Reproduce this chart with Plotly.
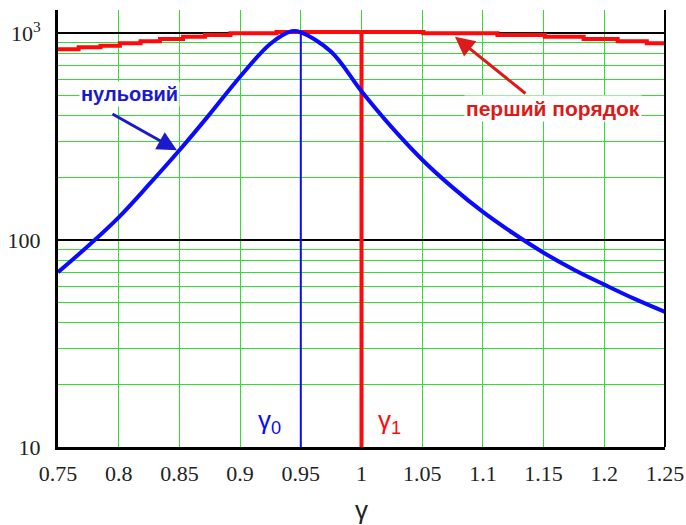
import numpy as np
import plotly.graph_objects as go

# Zeroth-order curve (blue)
gamma0_x = [0.75, 0.775, 0.8, 0.825, 0.85, 0.875, 0.9, 0.925, 0.9425, 0.95, 0.975, 1.0, 1.025,
            1.05, 1.075, 1.1, 1.125, 1.15, 1.175, 1.2, 1.225, 1.25]
gamma0_y = [70, 94, 129, 186, 272, 407, 617, 891, 1023, 1012, 815, 525, 351,
            245, 180, 137, 108, 87, 72, 61, 52, 45]

# First-order curve (red, stepped)
first_x = [0.75, 0.767, 0.785, 0.801, 0.818, 0.834, 0.853, 0.871, 0.892, 0.93, 1.051,
           1.112, 1.151, 1.183, 1.211, 1.235, 1.25]
first_y = [837, 856, 871, 895, 915, 938, 963, 981, 1000, 1015, 1000,
           981, 963, 938, 915, 895, 895]

x_ticks = [0.75, 0.8, 0.85, 0.9, 0.95, 1.0, 1.05, 1.1, 1.15, 1.2, 1.25]
x_ticktext = ["0.75", "0.8", "0.85", "0.9", "0.95", "1", "1.05", "1.1", "1.15", "1.2", "1.25"]
y_ticks = [10, 100, 1000]
y_ticktext = ["10", "100", "10<sup>3</sup>"]
y_minor = [20, 30, 40, 50, 60, 70, 80, 90, 200, 300, 400, 500, 600, 700, 800, 900]

gamma0_line = 0.95
gamma1_line = 1.0

GREEN = "#33dd33"
BLUE = "#0a0aff"
RED = "#ff0a0a"

fig = go.Figure()

fig.add_trace(go.Scatter(x=[gamma0_line, gamma0_line], y=[10, 1000], mode="lines",
                         line=dict(color=BLUE, width=2), showlegend=False, hoverinfo="skip"))
fig.add_trace(go.Scatter(x=[gamma1_line, gamma1_line], y=[10, 1000], mode="lines",
                         line=dict(color=RED, width=4), showlegend=False, hoverinfo="skip"))
fig.add_trace(go.Scatter(x=first_x, y=first_y, mode="lines", line_shape="hv",
                         line=dict(color=RED, width=4), showlegend=False))
fig.add_trace(go.Scatter(x=gamma0_x, y=gamma0_y, mode="lines", line_shape="spline",
                         line=dict(color=BLUE, width=4), showlegend=False))

tick_font = dict(family="Liberation Serif", size=22, color="#222222")

fig.update_xaxes(range=[0.75, 1.25], tickvals=x_ticks, ticktext=x_ticktext,
                 showgrid=True, gridcolor=GREEN, gridwidth=1, automargin=False,
                 showline=True, linecolor="black", linewidth=3, mirror=False,
                 ticks="", tickfont=tick_font, ticklabelstandoff=5, zeroline=False)
fig.update_yaxes(type="log", range=[1.0, 3.113], tickvals=y_ticks, ticktext=y_ticktext,
                 showgrid=True, gridcolor="black", gridwidth=2, automargin=False,
                 minor=dict(tickvals=y_minor, showgrid=True, gridcolor=GREEN, gridwidth=1, ticks=""),
                 showline=True, linecolor="black", linewidth=3, mirror=False,
                 ticks="", tickfont=tick_font, ticklabelstandoff=10, zeroline=False)

# right border
fig.add_shape(type="line", xref="paper", yref="paper", x0=1, x1=1, y0=0, y1=1,
              line=dict(color="black", width=2))

lab_font = "Liberation Sans"
fig.add_annotation(x=0.9246, y=np.log10(13.3), xref="x", yref="y", text="γ<sub>0</sub>",
                   showarrow=False, font=dict(family=lab_font, size=26, color=BLUE))
fig.add_annotation(x=1.023, y=np.log10(13.3), xref="x", yref="y", text="γ<sub>1</sub>",
                   showarrow=False, font=dict(family=lab_font, size=26, color=RED))

fig.add_annotation(x=0.5, y=-0.145, xref="paper", yref="paper", text="γ",
                   xanchor="center", yanchor="middle",
                   showarrow=False, font=dict(family=lab_font, size=26, color="#222222"))

fig.add_annotation(x=0.809, y=np.log10(1000) - (94 - 33.3) / 206.7, xref="x", yref="y",
                   text="<b>нульовий</b>", showarrow=False, bgcolor="white",
                   font=dict(family=lab_font, size=20, color="#1a1acc"))
fig.add_annotation(x=0.848, y=2.435, xref="x", yref="y", ax=-66, ay=-37,
                   text="", showarrow=True, arrowhead=2, arrowsize=1.3, arrowwidth=3,
                   arrowcolor="#1a1acc", standoff=0)

fig.add_annotation(x=1.158, y=np.log10(1000) - (108 - 33.3) / 206.7, xref="x", yref="y",
                   text="<b>перший порядок</b>", showarrow=False, bgcolor="white",
                   font=dict(family=lab_font, size=21, color="#dd1a1a"))
fig.add_annotation(x=1.077, y=2.984, xref="x", yref="y", ax=72, ay=58,
                   text="", showarrow=True, arrowhead=2, arrowsize=1.3, arrowwidth=3,
                   arrowcolor="#dd1a1a", standoff=0)

fig.update_layout(width=686, height=525, margin=dict(l=58, r=21, t=10, b=78),
                  plot_bgcolor="white", paper_bgcolor="white", showlegend=False)

fig.write_html("out.html")
